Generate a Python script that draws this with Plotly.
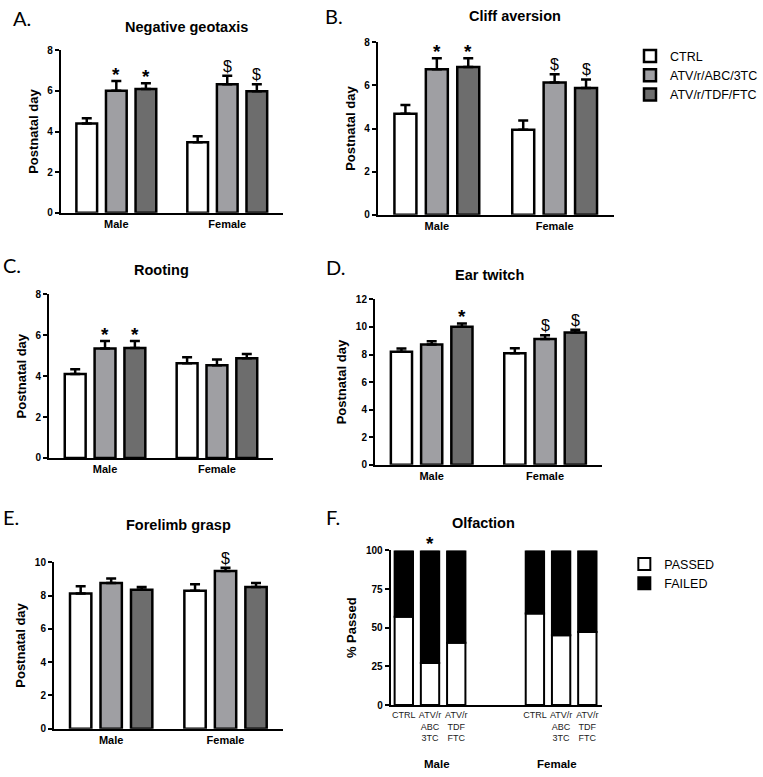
import plotly.graph_objects as go

W, H = 763, 777

groups = ["Male", "Female"]
treatments = ["CTRL", "ATV/r/ABC/3TC", "ATV/r/TDF/FTC"]
bar_colors = ["#ffffff", "#9f9fa3", "#6d6d6d"]

# A. Negative geotaxis  (rows = treatments, cols = Male, Female)
geotaxis_mean = [[4.39, 3.47], [6.01, 6.33], [6.09, 5.98]]
geotaxis_sem = [[0.26, 0.30], [0.48, 0.42], [0.29, 0.35]]
geotaxis_sig = [["", ""], ["*", "$"], ["*", "$"]]

# B. Cliff aversion
cliff_mean = [[4.69, 3.95], [6.75, 6.14], [6.86, 5.88]]
cliff_sem = [[0.41, 0.42], [0.52, 0.38], [0.41, 0.40]]
cliff_sig = [["", ""], ["*", "$"], ["*", "$"]]

# C. Rooting
rooting_mean = [[4.11, 4.63], [5.35, 4.53], [5.38, 4.88]]
rooting_sem = [[0.23, 0.30], [0.37, 0.29], [0.34, 0.20]]
rooting_sig = [["", ""], ["*", ""], ["*", ""]]

# D. Ear twitch
ear_mean = [[8.20, 8.10], [8.73, 9.13], [10.02, 9.59]]
ear_sem = [[0.24, 0.36], [0.23, 0.27], [0.24, 0.21]]
ear_sig = [["", ""], ["", "$"], ["*", "$"]]

# E. Forelimb grasp
grasp_mean = [[8.13, 8.29], [8.76, 9.47], [8.35, 8.52]]
grasp_sem = [[0.43, 0.39], [0.26, 0.20], [0.17, 0.24]]
grasp_sig = [["", ""], ["", "$"], ["", ""]]

# F. Olfaction (% of animals)
olf_ticklabels = ["CTRL", "ATV/r<br>ABC<br>3TC", "ATV/r<br>TDF<br>FTC"]
olf_passed_male = [57.1, 27.2, 40.3]
olf_failed_male = [42.9, 72.8, 59.7]
olf_passed_female = [59.2, 45.2, 47.3]
olf_failed_female = [40.8, 54.8, 52.7]
olf_sig_male = ["", "*", ""]
olf_sig_female = ["", "", ""]
olf_outcomes = ["PASSED", "FAILED"]
olf_colors = ["#ffffff", "#000000"]

FONT = "Liberation Sans, Arial, sans-serif"
BARGAP = 0.2
BARGROUPGAP = 0.3

panels = [
    dict(letter="A.", title="Negative geotaxis", mean=geotaxis_mean, sem=geotaxis_sem, sig=geotaxis_sig,
         ymax=8, dtick=2, xdom=(62, 288), ydom=(45, 210), letter_xy=(11, 12), title_xy=(190, 21)),
    dict(letter="B.", title="Cliff aversion", mean=cliff_mean, sem=cliff_sem, sig=cliff_sig,
         ymax=8, dtick=2, xdom=(385, 625), ydom=(37, 212), letter_xy=(329, 10), title_xy=(525, 10)),
    dict(letter="C.", title="Rooting", mean=rooting_mean, sem=rooting_sem, sig=rooting_sig,
         ymax=8, dtick=2, xdom=(50, 278), ydom=(293, 459), letter_xy=(1, 263), title_xy=(165, 268)),
    dict(letter="D.", title="Ear twitch", mean=ear_mean, sem=ear_sem, sig=ear_sig,
         ymax=12, dtick=2, xdom=(382, 613), ydom=(298, 466), letter_xy=(330, 265), title_xy=(499, 273)),
    dict(letter="E.", title="Forelimb grasp", mean=grasp_mean, sem=grasp_sem, sig=grasp_sig,
         ymax=10, dtick=2, xdom=(55, 288), ydom=(565, 734), letter_xy=(1, 519), title_xy=(182, 527)),
]

fig = go.Figure()
annotations = []
slot = (1 - BARGAP) / 3


def ax_name(i, kind):
    return kind if i == 1 else f"{kind}{i}"


def yaxis_style(ymax, dtick, title, dom):
    return dict(
        domain=[1 - dom[1] / H, 1 - dom[0] / H],
        range=[0, ymax], dtick=dtick, tick0=0,
        showline=True, linecolor="black", linewidth=2,
        ticks="outside", ticklen=4, tickwidth=2, tickcolor="black",
        showgrid=False, zeroline=False,
        tickfont=dict(family=FONT, size=10, color="black", weight="bold"),
        title=dict(text=title, font=dict(family=FONT, size=13, color="black", weight="bold"), standoff=6),
    )


for i, p in enumerate(panels, start=1):
    xr = ax_name(i, "x")
    yr = ax_name(i, "y")
    for t in range(3):
        fig.add_trace(go.Bar(
            x=groups, y=p["mean"][t], name=treatments[t],
            xaxis=xr, yaxis=yr,
            marker=dict(color=bar_colors[t], line=dict(color="black", width=2.5)),
            error_y=dict(type="data", array=p["sem"][t], arrayminus=[0] * len(groups), symmetric=False,
                         color="black", thickness=2.5, width=5),
            showlegend=(i == 2), legend="legend",
        ))
        for g in range(2):
            s = p["sig"][t][g]
            if s:
                annotations.append(dict(
                    x=g + (t - 1) * slot, y=p["mean"][t][g] + p["sem"][t][g], xref=xr, yref=yr,
                    text=s, showarrow=False, yanchor="bottom",
                    yshift=-6 if s == "*" else -1,
                    font=dict(family=FONT, size=19 if s == "*" else 16, color="black",
                              weight="bold" if s == "*" else "normal"),
                ))
    fig.update_layout(**{
        ax_name(i, "xaxis"): dict(
            domain=[p["xdom"][0] / W, p["xdom"][1] / W], anchor=yr,
            type="category", range=[-0.5, 1.5],
            showline=True, linecolor="black", linewidth=2, ticks="",
            showgrid=False, zeroline=False,
            tickfont=dict(family=FONT, size=11, color="black", weight="bold"),
        ),
        ax_name(i, "yaxis"): dict(anchor=xr, **yaxis_style(p["ymax"], p["dtick"], "Postnatal day", p["ydom"])),
    })
    annotations.append(dict(x=p["letter_xy"][0] / W, y=1 - p["letter_xy"][1] / H, xref="paper", yref="paper",
                            text=p["letter"], showarrow=False, xanchor="left", yanchor="middle",
                            font=dict(family="Lato, sans-serif", size=20, color="black")))
    annotations.append(dict(x=p["title_xy"][0] / W, y=1 - p["title_xy"][1] / H, xref="paper", yref="paper",
                            text=p["title"], showarrow=False, xanchor="center", yanchor="middle",
                            font=dict(family=FONT, size=14.5, color="black", weight="bold")))

# Panel F: olfaction stacked bars
xr, yr = "x6", "y6"
olf_x = [g * 5 + k for g in range(2) for k in range(3)]
passed = olf_passed_male + olf_passed_female
failed = olf_failed_male + olf_failed_female
fig.add_trace(go.Bar(x=olf_x, y=passed, name=olf_outcomes[0], xaxis=xr, yaxis=yr,
                     offsetgroup="olf", width=0.7,
                     marker=dict(color=olf_colors[0], line=dict(color="black", width=2)),
                     legend="legend2"))
fig.add_trace(go.Bar(x=olf_x, y=failed, base=passed, name=olf_outcomes[1], xaxis=xr, yaxis=yr,
                     offsetgroup="olf", width=0.7,
                     marker=dict(color=olf_colors[1], line=dict(color="black", width=2)),
                     legend="legend2"))
for xv, s in zip(olf_x, olf_sig_male + olf_sig_female):
    if s:
        annotations.append(dict(x=xv, y=100, xref=xr, yref=yr, text=s, showarrow=False, yanchor="bottom",
                                yshift=-6, font=dict(family=FONT, size=19, color="black", weight="bold")))
for g, (name, shift) in enumerate(zip(groups, [7, -4])):
    annotations.append(dict(x=sum(olf_x[g * 3:g * 3 + 3]) / 3, y=0, xref=xr, yref="paper",
                            text=name, showarrow=False, xshift=shift, yanchor="bottom", yshift=-1,
                            font=dict(family=FONT, size=11.5, color="black", weight="bold")))

fig.update_layout(
    xaxis6=dict(domain=[398 / W, 613 / W], anchor=yr, range=[-0.5, 7.55],
                tickvals=olf_x, ticktext=olf_ticklabels * 2, tickangle=0,
                showline=True, linecolor="black", linewidth=2, ticks="",
                showgrid=False, zeroline=False,
                tickfont=dict(family=FONT, size=9, color="#222222")),
    yaxis6=dict(anchor=xr, **yaxis_style(100, 25, "% Passed", (553, 710))),
)
annotations.append(dict(x=330 / W, y=1 - 519 / H, xref="paper", yref="paper", text="F.", showarrow=False,
                        xanchor="left", yanchor="middle", font=dict(family="Lato, sans-serif", size=20, color="black")))
annotations.append(dict(x=493 / W, y=1 - 525 / H, xref="paper", yref="paper", text="Olfaction", showarrow=False,
                        xanchor="center", yanchor="middle",
                        font=dict(family=FONT, size=14.5, color="black", weight="bold")))

fig.update_layout(
    width=W, height=H, margin=dict(l=0, r=0, t=0, b=0),
    paper_bgcolor="white", plot_bgcolor="white",
    barmode="group", bargap=BARGAP, bargroupgap=BARGROUPGAP,
    annotations=annotations,
    legend=dict(x=642 / W, y=1 - 36 / H, xanchor="left", yanchor="top", traceorder="normal",
                font=dict(family=FONT, size=12.5, color="black"), bgcolor="rgba(0,0,0,0)", itemwidth=30),
    legend2=dict(x=636 / W, y=1 - 552 / H, xanchor="left", yanchor="top", traceorder="normal",
                 font=dict(family=FONT, size=12.5, color="black"), bgcolor="rgba(0,0,0,0)", itemwidth=30),
    font=dict(family=FONT, color="black"),
)

fig.write_html("out.html", config={"displayModeBar": False},
               post_script="document.body.style.margin='0';document.body.style.overflow='hidden';")
